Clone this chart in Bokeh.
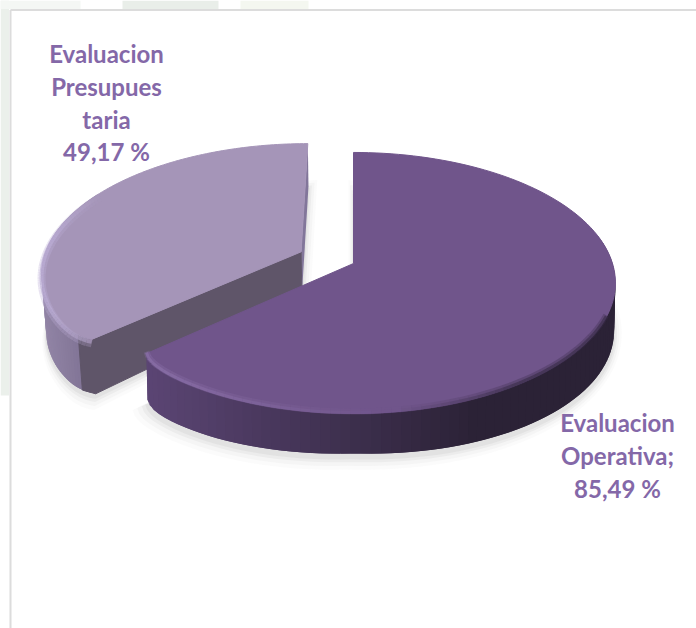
import numpy as np
from bokeh.plotting import figure
from bokeh.models import Range1d
from bokeh.core.properties import value
from bokeh.embed import file_html
from bokeh.resources import INLINE

categories = ["Evaluacion Operativa", "Evaluacion Presupuestaria"]
values = [85.49, 49.17]
label_lines = [["Evaluacion", "Operativa;", "85,49 %"],
               ["Evaluacion", "Presupues", "taria", "49,17 %"]]
label_x = [617, 106]
label_y = [[422, 455, 488], [53, 86, 119, 151]]

# projection of the tilted disc
CX, CY, R, S, K, DEPTH = 353, 263, 259, 127.6, 0.149, 40
EXPLODE = 0.225
CORNER = 0.035


def project(theta, r, eu=0.0, ev=0.0):
    u = r * np.sin(theta) + eu
    v = -r * np.cos(theta) + ev
    w = 1 / (1 - K * v)
    return CX + R * u * w, CY + S * v * w


def base(x, y, s, c):
    return CX + (x - CX) * s, y + DEPTH + c * np.abs(x - CX)


SMALL = (0.985, 0.055)
LARGE = (0.995, 0.03)


def mix(a, b, t):
    t = float(np.clip(t, 0, 1))
    c = [int(round(int(a[i:i + 2], 16) * (1 - t) + int(b[i:i + 2], 16) * t)) for i in (1, 3, 5)]
    return "#%02x%02x%02x" % tuple(c)


p = figure(width=696, height=628, x_range=Range1d(0, 696), y_range=Range1d(628, 0),
           output_backend="svg", toolbar_location=None, min_border=0,
           outline_line_color=None, background_fill_color="white", border_fill_color="white")
p.axis.visible = False
p.grid.visible = False

# page frame behind the chart
p.quad(left=[0], right=[8.5], top=[0], bottom=[395], fill_color="#ebf0eb", line_color=None)
p.quad(left=[0, 122, 240], right=[80, 218, 308], top=[0, 0, 0], bottom=[8.5, 8.5, 8.5],
       fill_color=["#f4f7f4", "#e9eee9", "#f4f7f0"], line_color=None)
p.segment(x0=[10, 10], y0=[9.5, 9.5], x1=[696, 10], y1=[9.5, 628], line_color="#dcdcdc", line_width=2)

fractions = np.array(values) / sum(values)
split = 2 * np.pi * fractions[0]


def rim(t0, t1, corner_end, corner_start=False, eu=0.0, ev=0.0, n=120):
    th = np.linspace(t0, t1, n)
    r = np.ones_like(th)
    width = np.radians(3.5)
    if corner_end:
        r -= CORNER * np.exp(-(t1 - th) / width)
    if corner_start:
        r -= CORNER * np.exp(-(th - t0) / width)
    x, y = project(th, r, eu, ev)
    return th, x, y


def soft_shadow(x, y, dy, kind):
    bx, by = base(x, y, *kind)
    for grow, alpha in zip([13, 9, 5, 2], [0.035, 0.05, 0.07, 0.09]):
        cx0, cy0 = np.mean(bx), np.mean(by)
        sx = cx0 + (bx - cx0) * (1 + grow / 270)
        sy = cy0 + (by - cy0) * (1 + grow / 120) + dy
        p.patch(sx, sy, fill_color="#808080", fill_alpha=alpha, line_color=None)


def draw_side(x, y, colour, kind):
    bx, by = base(x, y, *kind)
    xs, ys, cs = [], [], []
    for i in range(len(x) - 1):
        # each band overlaps the next one, so no seam shows
        j = min(i + 2, len(x) - 1)
        xs.append([x[i], x[j], bx[j], bx[i]])
        ys.append([y[i], y[j], by[j], by[i]])
        cs.append(colour((x[i] + x[i + 1]) / 2))
    p.patches(xs, ys, fill_color=cs, line_color=None)


def draw_bevel(x, y, colour, width, alpha, drop):
    xs = [[x[i], x[i + 1]] for i in range(len(x) - 1)]
    ys = [[y[i] + drop, y[i + 1] + drop] for i in range(len(x) - 1)]
    cs = [colour(x[i]) for i in range(len(x) - 1)]
    p.multi_line(xs, ys, line_color=cs, line_width=width, line_alpha=alpha)


# ---- small slice (exploded, drawn first)
mid = (split + 2 * np.pi) / 2
eu, ev = EXPLODE * np.sin(mid), -EXPLODE * np.cos(mid)
ax, ay = project(0.0, 0.0, eu, ev)
sth, sx, sy = rim(split, 2 * np.pi, False, corner_start=True, eu=eu, ev=ev)
soft_shadow(np.r_[ax, sx], np.r_[ay, sy], 3, SMALL)

sbx, sby = base(sx, sy, *SMALL)
abx, aby = base(ax, ay, *SMALL)
# right-hand cut face, a thin sliver
p.patch([sx[-1], ax, abx, sbx[-1]], [sy[-1], ay, aby, sby[-1]], fill_color="#82769a", line_color=None)
seen = sth < np.radians(300)
draw_side(sx[seen], sy[seen], lambda xv: mix("#9285a6", "#7b6e90", (xv - 40) / 55), SMALL)
# front cut face
p.patch([ax, sx[0], sx[3], sbx[3], sbx[0], abx], [ay, sy[0], sy[3], sby[3], sby[0], aby],
        fill_color="#5f5569", line_color="#5f5569")
p.patch(np.r_[ax, sx], np.r_[ay, sy], fill_color="#a595b8", line_color="#a595b8", line_width=1)
small_bevel = lambda xv: mix("#bcaed6", "#a595b8", (xv - 50) / 50)
lit = sx < 100
draw_bevel(sx[lit], sy[lit], small_bevel, 8, 0.35, 4)
draw_bevel(sx[lit], sy[lit], small_bevel, 4, 0.7, 2.5)

# ---- large slice
lth, lx_, ly_ = rim(0.0, split, True)
acx, acy = project(0.0, 0.0)
soft_shadow(np.r_[acx, lx_], np.r_[acy, ly_], 4, LARGE)
front = lth > np.radians(75)
draw_side(lx_[front], ly_[front], lambda xv: mix("#5b4574", "#2b2236", (xv - 145) / 330), LARGE)
p.patch(np.r_[acx, lx_], np.r_[acy, ly_], fill_color="#70558b", line_color="#70558b", line_width=1)
large_bevel = lambda xv: mix("#8a70a8", "#70558b", (xv - 170) / 220) if xv < 400 else mix("#70558b", "#3c2f4c", (xv - 400) / 120)
edge = lth > np.radians(112)
draw_bevel(lx_[edge], ly_[edge], large_bevel, 6, 0.35, -2)
draw_bevel(lx_[edge], ly_[edge], large_bevel, 3, 0.7, -1)

# ---- labels
for lines, tx, tys in zip(label_lines, label_x, label_y):
    p.text(x=[tx] * len(lines), y=tys, text=lines, text_font=value("Lato"), text_font_style="bold",
           text_font_size="24px", text_color="#8468a8", text_align="center", text_baseline="middle")

open("out.html", "w").write(file_html(p, INLINE))
